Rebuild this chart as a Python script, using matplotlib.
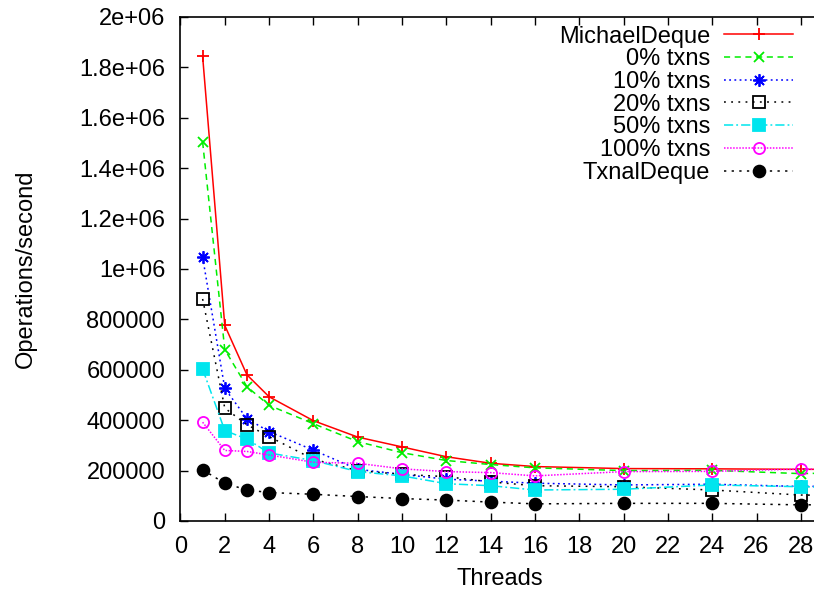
import matplotlib
matplotlib.use("Agg")
import matplotlib.pyplot as plt

plt.rcParams["font.family"] = ["Liberation Sans", "DejaVu Sans"]

threads = [1, 2, 3, 4, 6, 8, 10, 12, 14, 16, 20, 24, 28, 32]

michael = [1844000, 776000, 580000, 493000, 398000, 333000, 294000,
           255000, 229000, 216000, 208000, 207000, 205000, 205000]
txns_0 = [1504000, 680000, 533000, 459000, 386000, 315000, 271000,
          240000, 224000, 211000, 200000, 201000, 188000, 195000]
txns_10 = [1047000, 526000, 406000, 355000, 281000, 205000, 185000,
           166000, 158000, 150000, 143000, 146000, 137000, 140000]
txns_20 = [881000, 448000, 382000, 335000, 245000, 200000, 185000,
           176000, 155000, 140000, 136000, 123000, 103000, 100000]
txns_50 = [603000, 359000, 325000, 270000, 240000, 196000, 179000,
           148000, 140000, 123000, 126000, 143000, 136000, 130000]
txns_100 = [392000, 280000, 276000, 262000, 233000, 229000, 207000,
            196000, 192000, 179000, 196000, 197000, 206000, 205000]
txnal = [203000, 150000, 123000, 113000, 106000, 97000, 89000,
         83000, 75000, 68000, 70000, 70000, 64000, 66000]

x_ticks = list(range(0, 30, 2))
y_ticks = [0, 200000, 400000, 600000, 800000, 1000000, 1200000,
           1400000, 1600000, 1800000, 2000000]
y_labels = ["0", "200000", "400000", "600000", "800000", "1e+06", "1.2e+06",
            "1.4e+06", "1.6e+06", "1.8e+06", "2e+06"]

fig = plt.figure(figsize=(8.14, 5.94), dpi=100)
# axes runs past the right edge of the picture (x up to 32), as in the original
ax = fig.add_axes([0.2217, 0.1229, 0.871, 0.8485])

series = [
    ("MichaelDeque", michael, "#ff0000", "-", "+", 8, "#ff0000"),
    ("0% txns", txns_0, "#00ee00", (0, (4, 3)), "x", 7, "#00ee00"),
    ("10% txns", txns_10, "#0000ff", (0, (1.2, 2.2)), (8, 2, 0), 9, "#0000ff"),
    ("20% txns", txns_20, "#000000", (0, (1.2, 3.5)), "s", 8, "none"),
    ("50% txns", txns_50, "#00e5ee", (0, (6, 2, 1.2, 2)), "s", 8, "#00e5ee"),
    ("100% txns", txns_100, "#ff00ff", (0, (1, 1)), "o", 8, "none"),
    ("TxnalDeque", txnal, "#000000", (0, (1.5, 3.5)), "o", 8.5, "#000000"),
]

for label, vals, color, ls, mk, ms, mfc in series:
    ax.plot(threads, vals, color=color, linestyle=ls, linewidth=1.1,
            marker=mk, markersize=ms, markerfacecolor=mfc,
            markeredgecolor=color, markeredgewidth=1.3, label=label)

ax.set_xlim(0, 32)
ax.set_ylim(0, 2000000)
ax.set_xticks(x_ticks)
ax.set_yticks(y_ticks)
ax.set_yticklabels(y_labels)
ax.tick_params(direction="in", length=6, width=1, top=True, right=True,
               labelsize=17, pad=11)
for sp in ax.spines.values():
    sp.set_linewidth(1.2)

ax.set_xlabel("Threads", fontsize=17)
ax.set_ylabel("Operations/second", fontsize=17)
ax.xaxis.set_label_coords(0.4506, -0.093)
ax.yaxis.set_label_coords(-0.203, 0.5)

ax.legend(loc="upper right", bbox_to_anchor=(0.974, 0.957),
          bbox_transform=fig.transFigure, markerfirst=False, frameon=False,
          fontsize=17, handlelength=2.9, handletextpad=0.6,
          labelspacing=0.03, borderpad=0, borderaxespad=0)

fig.savefig("out.png", dpi=100)
